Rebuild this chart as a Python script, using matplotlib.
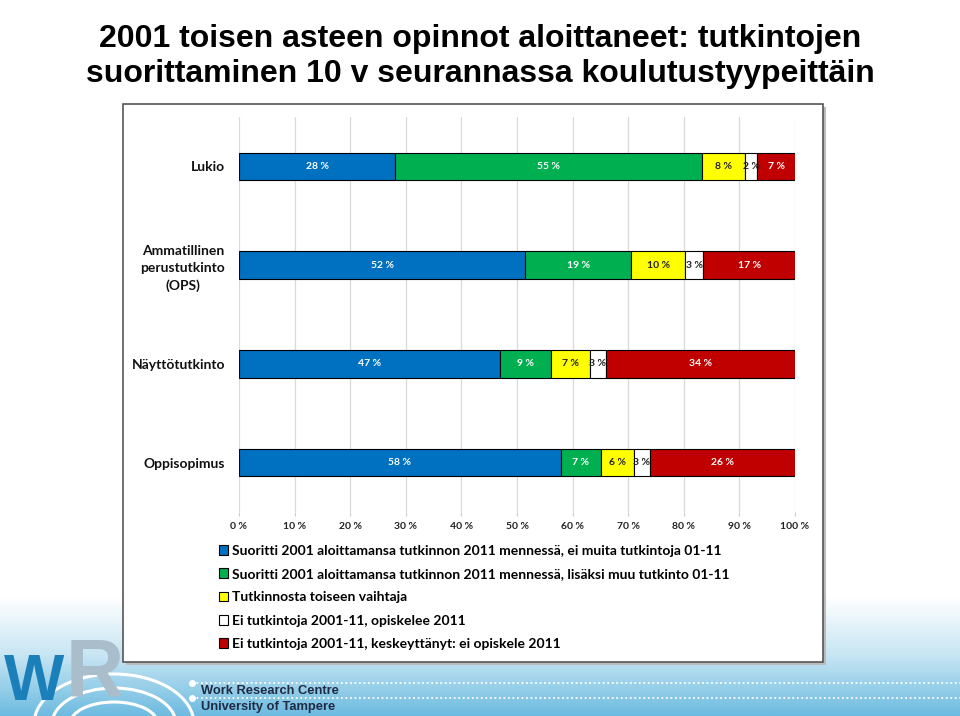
import numpy as np
import matplotlib
matplotlib.use('Agg')
import matplotlib.pyplot as plt
from matplotlib.patches import Rectangle, Arc

categories = ['Lukio', 'Ammatillinen\nperustutkinto\n(OPS)', 'Näyttötutkinto', 'Oppisopimus']
series = ['Suoritti 2001 aloittamansa tutkinnon 2011 mennessä, ei muita tutkintoja 01-11',
          'Suoritti 2001 aloittamansa tutkinnon 2011 mennessä, lisäksi muu tutkinto 01-11',
          'Tutkinnosta toiseen vaihtaja',
          'Ei tutkintoja 2001-11, opiskelee 2011',
          'Ei tutkintoja 2001-11, keskeyttänyt: ei opiskele 2011']
# shares per category (rows) and series (columns), in percent
values = [[28.1, 55.2, 7.7, 2.2, 6.8],
          [51.5, 19.0, 9.8, 3.2, 16.5],
          [46.9, 9.2, 7.0, 2.9, 34.0],
          [57.9, 7.2, 5.9, 2.9, 26.1]]
labels = [['28 %', '55 %', '8 %', '2 %', '7 %'],
          ['52 %', '19 %', '10 %', '3 %', '17 %'],
          ['47 %', '9 %', '7 %', '3 %', '34 %'],
          ['58 %', '7 %', '6 %', '3 %', '26 %']]
colors = ['#0070C0', '#00B050', '#FFFF00', '#FFFFFF', '#C00000']
text_colors = ['white', 'white', '#222222', '#222222', 'white']
xticks = [0, 10, 20, 30, 40, 50, 60, 70, 80, 90, 100]

plt.rcParams['font.family'] = ['Lato', 'DejaVu Sans']

fig = plt.figure(figsize=(9.6, 7.16), dpi=100)
W, H = 960, 716

# background band at the bottom with the logo
bg = fig.add_axes([0, 0, 1, 120 / H], zorder=-2)
grad = np.linspace(0, 1, 100).reshape(-1, 1)
bg.imshow(grad, aspect='auto', cmap=matplotlib.colors.LinearSegmentedColormap.from_list(
    'b', ['#6dbbe0', '#c6e5f3', '#ffffff']), extent=[0, 1, 0, 1], origin='lower')
bg.set_xlim(0, 1)
bg.set_ylim(0, 1)
bg.axis('off')
logo_font = ['Liberation Sans', 'DejaVu Sans']
bg.text(4 / W, 3 / 120, 'W', fontsize=46, fontweight='bold', color='#1b7fba',
        family=logo_font, va='bottom', ha='left')
bg.text(66 / W, 3 / 120, 'R', fontsize=58, fontweight='bold', color='#a9bdca',
        family=logo_font, va='bottom', ha='left')
for hw, hh in [(80, 50), (62, 36), (44, 22)]:
    bg.add_patch(Arc((114 / W, -8 / 120), hw * 2 / W, hh * 2 / 120, theta1=0, theta2=180,
                     color='white', lw=2.2))
for py in [683, 698]:
    bg.plot([192 / W, 1], [(716 - py) / 120] * 2, ls=(0, (1, 1.5)), color='white', lw=1.3)
    bg.plot([192 / W], [(716 - py) / 120], 'o', color='white', ms=4)
bg.text(201 / W, (716 - 691) / 120, 'Work Research Centre', fontsize=9.3, fontweight='bold',
        color='#1f2a44', family=['Liberation Sans Narrow', 'Liberation Sans'], va='center')
bg.text(201 / W, (716 - 707) / 120, 'University of Tampere', fontsize=9.3, fontweight='bold',
        color='#1f2a44', family=['Liberation Sans Narrow', 'Liberation Sans'], va='center')

# chart box
fig.add_artist(Rectangle((126 / W, 1 - 665 / H), 700 / W, 558 / H, transform=fig.transFigure,
                         facecolor='#bbbbbb', edgecolor='none', zorder=0.5))
fig.add_artist(Rectangle((123 / W, 1 - 662 / H), 700 / W, 558 / H, transform=fig.transFigure,
                         facecolor='white', edgecolor='#555555', lw=1.2, zorder=0.6))

# title
title_font = ['Liberation Sans', 'DejaVu Sans']
fig.text(0.5, 1 - 39 / H, '2001 toisen asteen opinnot aloittaneet: tutkintojen',
         ha='center', va='center', fontsize=23, fontweight='bold', family=title_font)
fig.text(0.5, 1 - 74 / H, 'suorittaminen 10 v seurannassa koulutustyypeittäin',
         ha='center', va='center', fontsize=23, fontweight='bold', family=title_font)

ax = fig.add_axes([239 / W, 1 - 512 / H, 556 / W, 395 / H], zorder=3)
ax.set_facecolor('none')

y = np.arange(len(categories))
vals = np.array(values)
left = np.zeros(len(categories))
for j in range(len(series)):
    bars = ax.barh(y, vals[:, j], left=left, height=0.28, color=colors[j],
                   edgecolor='black', linewidth=0.8, label=series[j], zorder=3)
    for i, b in enumerate(bars):
        ax.text(left[i] + vals[i, j] / 2, y[i], labels[i][j], ha='center', va='center',
                fontsize=7.5, fontweight='bold', color=text_colors[j], zorder=4)
    left += vals[:, j]

ax.set_xlim(0, 100)
ax.set_ylim(3.5, -0.5)
ax.set_xticks(xticks)
ax.set_xticklabels([f'{t} %' for t in xticks], fontsize=7.5, fontweight='bold', color='#222222')
ax.set_yticks(y)
ax.set_yticklabels(categories, fontsize=10, fontweight='bold', color='#111111',
                   multialignment='center', linespacing=1.5)
ax.tick_params(axis='y', length=0, pad=10)
ax.tick_params(axis='x', length=3, color='#cccccc', pad=4)
ax.grid(axis='x', color='#d9d9d9', lw=0.9, zorder=0)
for s in ax.spines.values():
    s.set_visible(False)

fig.legend(loc='upper left', bbox_to_anchor=(213 / W, 1 - 539 / H), frameon=False,
           prop={'weight': 'bold', 'size': 10}, handlelength=0.65,
           handleheight=0.7, handletextpad=0.35, labelspacing=0.82, borderaxespad=0)

fig.savefig('out.png', dpi=100)
